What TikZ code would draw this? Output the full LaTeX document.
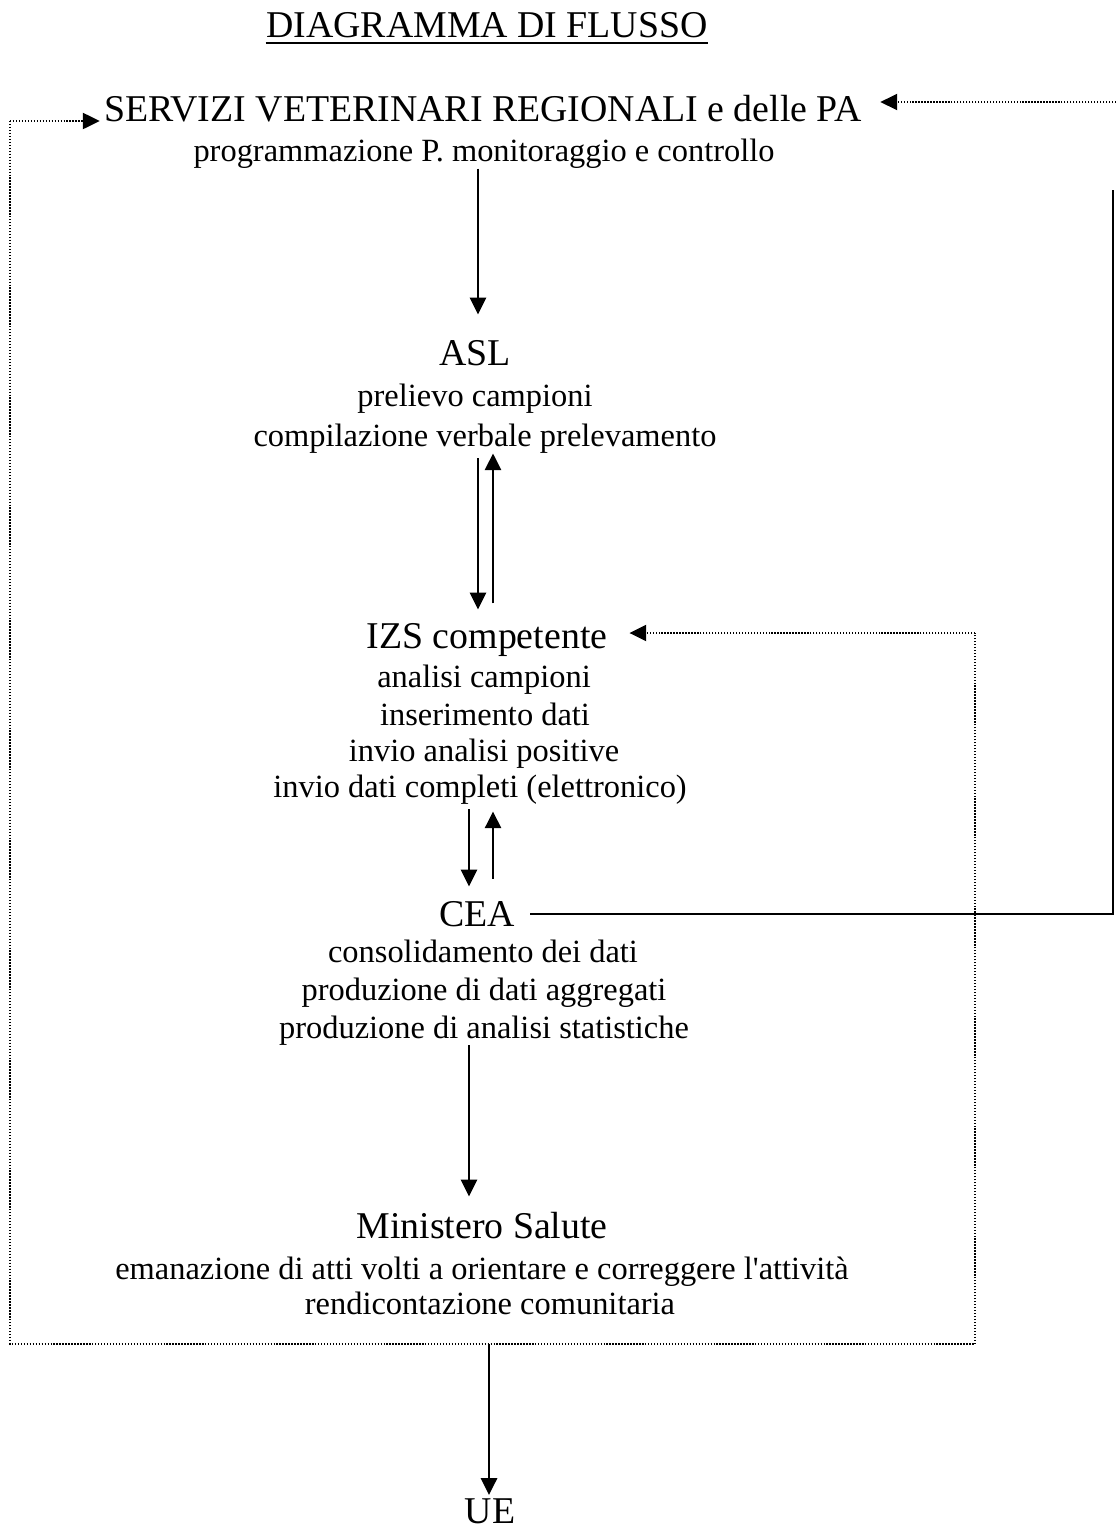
\documentclass[tikz,border=0pt]{standalone}
\usepackage{fontspec}
\setmainfont{Liberation Serif}
\usetikzlibrary{arrows.meta}
\begin{document}
\begin{tikzpicture}[x=0.37pt,y=-0.37pt,
  head/.style={font=\fontsize{14}{16}\selectfont, inner sep=0pt, anchor=base},
  body/.style={font=\fontsize{12}{14}\selectfont, inner sep=0pt, anchor=base},
  arr/.style={line width=0.75pt, -{Triangle[length=6.2pt,width=6pt]}},
  solidline/.style={line width=0.75pt},
  dots/.style={line width=0.5pt, dash pattern=on 0.5pt off 0.6pt},
  dotarr/.style={dots, -{Triangle[length=6.2pt,width=6pt]}}]
\useasboundingbox (0,0) rectangle (1116,1529);

% texts
\node[head] (title) at (487,37) {DIAGRAMMA DI FLUSSO};
\draw[line width=0.6pt] ([yshift=-2.2pt]title.base west) -- ([yshift=-2.2pt]title.base east);

\node[head] (srv) at (483,121) {SERVIZI VETERINARI REGIONALI e delle PA};
\node[body] (srvsub) at (484,161) {programmazione P. monitoraggio e controllo};

\node[head] (asl) at (475,365) {ASL};
\node[body] (asl1) at (475,406) {prelievo campioni};
\node[body] (asl2) at (485,446) {compilazione verbale prelevamento};

\node[head] (izs) at (487,648) {IZS competente};
\node[body] (izs1) at (484,687) {analisi campioni};
\node[body] (izs2) at (485,725) {inserimento dati};
\node[body] (izs3) at (484,761) {invio analisi positive};
\node[body] (izs4) at (480,797) {invio dati completi (elettronico)};

\node[head] (cea) at (477,926) {CEA};
\node[body] (cea1) at (483,962) {consolidamento dei dati};
\node[body] (cea2) at (484,1000) {produzione di dati aggregati};
\node[body] (cea3) at (484,1038) {produzione di analisi statistiche};

\node[head] (min) at (482,1238) {Ministero Salute};
\node[body] (min1) at (482,1279) {emanazione di atti volti a orientare e correggere l\textquotesingle attività};
\node[body] (min2) at (490,1314) {rendicontazione comunitaria};

\node[head] (ue) at (490,1523) {UE};

% lanes
\coordinate (laneA) at (478,0);
\coordinate (laneB) at (493,0);
\coordinate (laneC) at (469,0);
\coordinate (laneD) at (489,0);

% vertical arrows
\draw[arr, shorten >=9.25pt] (srvsub.south -| laneA) -- (asl.north -| laneA);
\draw[arr, shorten <=1.85pt, shorten >=4.8pt] (asl2.south -| laneA) -- (izs.north -| laneA);
\draw[arr, shorten <=7pt] (izs.north -| laneB) -- (asl2.south -| laneB);
\draw[arr, shorten <=1.85pt, shorten >=5.2pt] (izs4.south -| laneC) -- (cea.north -| laneC);
\draw[arr, shorten <=8.1pt, shorten >=2.6pt] (cea.north -| laneB) -- (izs4.south -| laneB);
\draw[arr, shorten >=5.5pt] (cea3.south -| laneC) -- (min.north -| laneC);

% dotted loop
\coordinate (loopTop) at (10,121);
\coordinate (loopBL) at (10,1344);
\coordinate (loopBR) at (975,1344);
\coordinate (loopTR) at (975,633);
\draw[dots] (loopTop) -- (loopBL) -- (loopBR) -- (loopTR);
\draw[dotarr, shorten >=1.5pt] (loopTop) -- (srv.base west);
\draw[dotarr, shorten >=8pt] (loopTR) -- (izs.east |- loopTR);
\draw[arr, shorten >=1pt] (laneD |- loopBR) -- (ue.north -| laneD);

% right return line
\coordinate (rtBot) at (1113,916);
\coordinate (rtMid) at (1113,190);
\coordinate (rtTop) at (1116,102);
\draw[solidline, shorten <=5.5pt] (cea.east) -- (cea.east -| rtBot) -- (rtMid);
\draw[dotarr, shorten >=6.7pt] (rtTop) -- (rtTop -| srv.east);
\end{tikzpicture}
\end{document}
